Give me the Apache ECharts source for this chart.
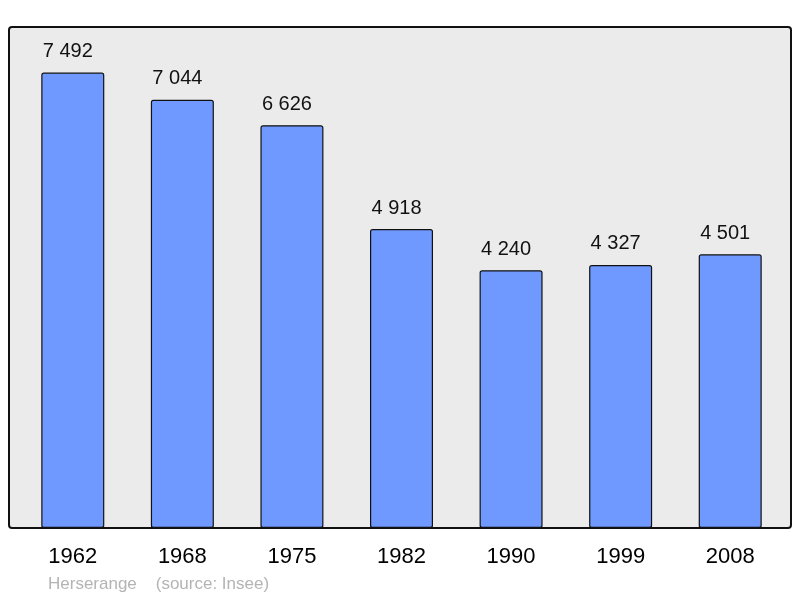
<!DOCTYPE html>
<html><head><meta charset="utf-8">
<script src="https://cdn.jsdelivr.net/npm/echarts@6/dist/echarts.min.js"></script>
<style>html,body{margin:0;padding:0;background:#fff}#c{width:800px;height:598px}</style>
</head><body><div id="c"></div>
<script>
const categories = ['1962','1968','1975','1982','1990','1999','2008'];
const population = [7492, 7044, 6626, 4918, 4240, 4327, 4501];
const footerText = 'Herserange    (source: Insee)';

const fmt = v => String(v).replace(/\B(?=(\d{3})+(?!\d))/g, ' ');
const chart = echarts.init(document.getElementById('c'), null, {renderer: 'canvas'});
chart.setOption({
  animation: false,
  backgroundColor: '#ffffff',
  graphic: [
    {type: 'rect', z: -10, shape: {x: 9, y: 27, width: 782, height: 501, r: 3},
     style: {fill: '#ebebeb', stroke: '#111', lineWidth: 2}},
    {type: 'text', z: 10,
     style: {x: 48, y: 584, verticalAlign: 'middle', text: footerText, fill: '#b4b4b4',
       font: '17px "Liberation Sans", Arial, sans-serif'}}
  ],
  grid: {left: 18, right: 15, top: 27, bottom: 70},
  xAxis: {
    type: 'category', data: categories,
    axisLine: {show: false}, axisTick: {show: false},
    axisLabel: {color: '#000', fontSize: 22, margin: 18, fontFamily: '"Liberation Sans", Arial, sans-serif'}
  },
  yAxis: {type: 'value', min: 0, max: 8241, show: false, splitLine: {show: false}},
  series: [{
    type: 'bar', data: population, barWidth: '57.5%',
    itemStyle: {color: '#7099ff', borderColor: '#111', borderWidth: 1.2, borderRadius: 2},
    label: {show: true, position: 'top', distance: 11, offset: [-5, 0], color: '#111', fontSize: 20,
      fontFamily: '"Liberation Sans", Arial, sans-serif', formatter: p => fmt(p.value)}
  }]
});
</script></body></html>
